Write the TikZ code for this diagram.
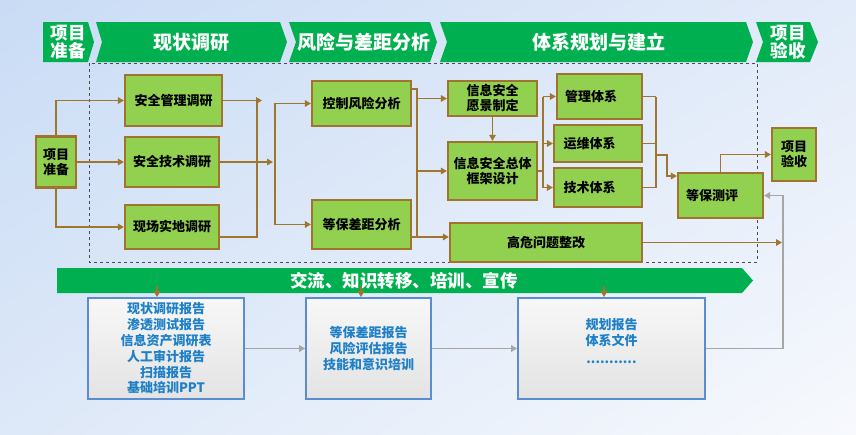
\documentclass[tikz,border=0pt]{standalone}
\usepackage{fontspec}
\setmainfont{Noto Sans CJK SC}
\usetikzlibrary{arrows.meta,shadings}
\definecolor{bandgreen}{HTML}{00B050}
\definecolor{boxgreen}{HTML}{92D050}
\definecolor{boxbrown}{HTML}{A0732E}
\definecolor{arrbrown}{HTML}{A0752E}
\definecolor{boxblue}{HTML}{5B8BD0}
\definecolor{textblue}{HTML}{1E80C8}
\definecolor{linegray}{HTML}{A6A6A6}
\definecolor{bgA}{HTML}{C9DCF5}
\definecolor{bgB}{HTML}{E2EBF9}
\definecolor{bgC}{HTML}{DDE8F8}
\definecolor{bgD}{HTML}{F7F9FD}
\tikzset{
  gbox/.style={draw=boxbrown, line width=2.2pt, fill=boxgreen, align=center, inner sep=0pt,
    font=\fontsize{13}{15}\selectfont\bfseries},
  lefttext/.style={label={[font=\fontsize{13}{15}\selectfont\bfseries, xshift=-8.5pt]center:#1}},
  obox/.style={draw=boxblue, line width=1.8pt, top color=white!97!black, bottom color=white!89!black, inner sep=0pt},
  otext/.style={text=textblue, align=center, font=\fontsize{13}{15.8}\selectfont\bfseries},
  toptext/.style={text=white, align=center, font=\fontsize{19}{20}\selectfont\bfseries},
  arr/.style={draw=arrbrown, line width=1.8pt, -{Triangle[length=6pt,width=6.5pt]}},
  bline/.style={draw=arrbrown, line width=1.8pt},
  garr/.style={draw=linegray, line width=1.8pt, -{Triangle[length=6pt,width=6.5pt]}},
}
\begin{document}
\begin{tikzpicture}[x=1pt,y=-1pt]
\useasboundingbox (0,0) rectangle (856,434);
\shade[upper left=bgA, upper right=bgB, lower left=bgC, lower right=bgD] (0,0) rectangle (856,434);

% top chevron bar
\fill[bandgreen] (43,22) -- (88,22) -- (94,42) -- (88,62) -- (43,62) -- cycle;
\fill[bandgreen] (96,22) -- (280,22) -- (287,42) -- (280,62) -- (96,62) -- (102,42) -- cycle;
\fill[bandgreen] (289,22) -- (430,22) -- (437,42) -- (430,62) -- (289,62) -- (296,42) -- cycle;
\fill[bandgreen] (440,22) -- (746,22) -- (753,42) -- (746,62) -- (440,62) -- (447,42) -- cycle;
\fill[bandgreen] (756,22) -- (810,22) -- (818,42) -- (810,62) -- (756,62) -- (763,42) -- cycle;
\node[toptext, font=\fontsize{17.5}{18}\selectfont\bfseries] (t1) at (68,42) {项目\\准备};
\node[toptext] (t2) at (191,42) {现状调研};
\node[toptext] (t3) at (364,42) {风险与差距分析};
\node[toptext] (t4) at (599,42) {体系规划与建立};
\node[toptext, font=\fontsize{17.5}{18}\selectfont\bfseries] (t5) at (788,42) {项目\\验收};

% dashed frame
\draw[dashed, draw=black!70, line width=0.8pt] (89,63) rectangle (757,262);

% lower band
\fill[bandgreen] (57,268) -- (742,268) -- (753,280.5) -- (742,293) -- (57,293) -- cycle;
\node[text=white, font=\fontsize{17.5}{18}\selectfont\bfseries] (band) at (404,280.5) {交流、知识转移、培训、宣传};

% green nodes
\node[gbox, minimum width=40, minimum height=51] (pre) at (56,162) {项目\\准备};
\node[gbox, minimum width=97, minimum height=51] (m1) at (173.5,100.5) {安全管理调研};
\node[gbox, minimum width=94, minimum height=50] (m2) at (172,162) {安全技术调研};
\node[gbox, minimum width=94, minimum height=44] (m3) at (172,227) {现场实地调研};
\node[gbox, minimum width=99, minimum height=45] (r1) at (361.5,103.5) {控制风险分析};
\node[gbox, minimum width=99, minimum height=49] (r2) at (361.5,224.5) {等保差距分析};
\node[gbox, minimum width=89, minimum height=35] (v) at (492.5,98.5) {信息安全\\愿景制定};
\node[gbox, minimum width=89, minimum height=58] (f) at (492.5,171) {信息安全总体\\框架设计};
\node[gbox, minimum width=192, minimum height=39] (h) at (546,242.5) {高危问题整改};
\node[gbox, minimum width=85, minimum height=45, lefttext=管理体系] (s1) at (599.5,96.5) {};
\node[gbox, minimum width=88, minimum height=37, lefttext=运维体系] (s2) at (598,143.5) {};
\node[gbox, minimum width=88, minimum height=39, lefttext=技术体系] (s3) at (598,187.5) {};
\node[gbox, minimum width=85, minimum height=45, lefttext=等保测评] (e) at (720.5,195.5) {};
\node[gbox, minimum width=44, minimum height=53] (acc) at (794,154.5) {项目\\验收};

% output boxes
\node[obox, minimum width=156, minimum height=101] (b1) at (166,348.5) {};
\node[otext] (b1t) at (166,348.5) {现状调研报告\\渗透测试报告\\信息资产调研表\\人工审计报告\\扫描报告\\基础培训PPT};
\node[obox, minimum width=125, minimum height=101] (b2) at (368.5,348.5) {};
\node[otext] (b2t) at (368.5,348.5) {等保差距报告\\风险评估报告\\技能和意识培训};
\node[obox, minimum width=187, minimum height=101] (b3) at (611.5,348.5) {};
\node[otext] (b3t) at (611.5,341) {规划报告\\体系文件\\[2pt]...........};

% connectors: preparation -> surveys
\draw[arr] (pre.north) |- (m1.west);
\draw[arr] (pre.east) -- (m2.west);
\draw[arr] (pre.south) |- (m3.west);
\coordinate (j1) at (262,100.5);
\coordinate (j2) at (257,100.5);
\coordinate (j3) at (273,162);
\draw[arr] (m1.east) -- (j1);
\draw[bline] ([yshift=-10pt]m3.east) -| (j2);
\draw[arr] (m2.east) -- (j3);
\coordinate (k2) at (275,224.5);
\draw[arr] (k2) |- (r1.west);
\draw[arr] (k2) -- (r2.west);

% risk -> planning
\coordinate (q1) at (417,237);
\draw[bline] ([yshift=14.5pt]r1.east) -| (q1);
\draw[arr] (v.west -| q1) -- (v.west);
\draw[arr] (f.west -| q1) -- (f.west);
\draw[arr] ([yshift=-12.5pt]r2.east) -- ([yshift=-12.5pt]r2.east -| h.west);
\draw[arr] (v.south) -- (f.north);

% framework -> systems
\coordinate (p1) at (543,171);
\draw[bline] (f.east) -- (p1);
\draw[bline] (s1.west -| p1) -- (s3.west -| p1);
\draw[arr] (s1.west -| p1) -- (s1.west);
\draw[arr] (s2.west -| p1) -- (s2.west);
\draw[arr] (s3.west -| p1) -- (s3.west);

% systems -> evaluation
\coordinate (t) at (656,155);
\draw[bline] (s1.east) -- (s1.east -| t);
\draw[bline] (s2.east) -- (s2.east -| t);
\draw[bline] (s3.east) -- (s3.east -| t);
\draw[bline] (s1.east -| t) -- (s3.east -| t);
\coordinate (u2) at (667,155);
\draw[arr] (t) -- (u2) |- ([yshift=19.5pt]e.west);
\draw[arr] (e.north) |- (acc.west);

% high risk -> right
\coordinate (hr) at (782,242.5);
\draw[arr] (h.east) -- (hr);

% band -> boxes
\coordinate (d1) at (157,286);
\coordinate (d2) at (361,286);
\coordinate (d3) at (604,286);
\draw[arr] (d1) -- (d1 |- b1.north);
\draw[arr] (d2) -- (d2 |- b2.north);
\draw[arr] (d3) -- (d3 |- b3.north);

% gray flow
\draw[garr] (b1.east) -- (b2.west);
\draw[garr] (b2.east) -- (b3.west);
\coordinate (g1) at (783,195.5);
\draw[garr] (b3.east) -| (g1) -- (e.east);
\end{tikzpicture}
\end{document}
